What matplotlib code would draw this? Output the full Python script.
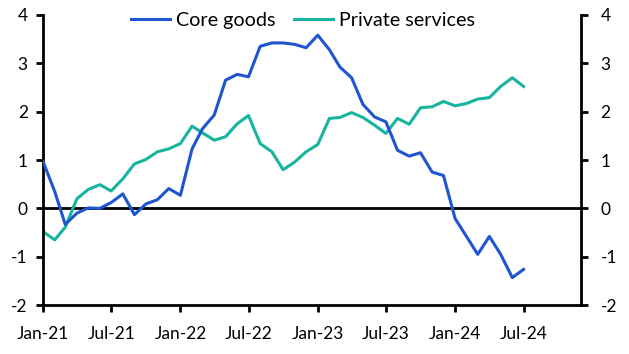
import matplotlib
matplotlib.use('Agg')
import matplotlib.pyplot as plt
import matplotlib.dates as mdates
import pandas as pd

plt.rcParams['font.family'] = ['Lato', 'DejaVu Sans']
plt.rcParams['font.size'] = 12.5
plt.rcParams['axes.unicode_minus'] = False

# monthly, Jan-21 .. Jul-24
months = pd.date_range('2021-01-01', '2024-07-01', freq='MS')
core_goods = [
	0.97, 0.35, -0.33, -0.10, 0.01, 0.00, 0.12, 0.30, -0.13, 0.09, 0.18, 0.41,
	0.27, 1.23, 1.65, 1.93, 2.65, 2.77, 2.72, 3.35, 3.42, 3.42, 3.39, 3.32,
	3.58, 3.28, 2.92, 2.70, 2.15, 1.89, 1.79, 1.20, 1.08, 1.15, 0.75, 0.68,
	-0.21, -0.59, -0.95, -0.58, -0.95, -1.43, -1.26,
]
private_services = [
	-0.48, -0.65, -0.39, 0.20, 0.39, 0.49, 0.36, 0.61, 0.92, 1.01, 1.17, 1.23,
	1.34, 1.70, 1.56, 1.41, 1.48, 1.75, 1.92, 1.34, 1.17, 0.80, 0.96, 1.17,
	1.32, 1.86, 1.88, 1.98, 1.88, 1.72, 1.55, 1.86, 1.74, 2.08, 2.10, 2.21,
	2.12, 2.17, 2.26, 2.29, 2.52, 2.70, 2.52,
]
yticks = [-2, -1, 0, 1, 2, 3, 4]

fig = plt.figure(figsize=(6.29, 3.54), dpi=100)
ax = fig.add_axes([0.0684, 0.138, 0.8556, 0.82])

ax.axhline(0, color='black', lw=2, zorder=1)
ax.plot(months, core_goods, color='#1F55D0', lw=2.2, label='Core goods', zorder=3)
ax.plot(months, private_services, color='#17B4A0', lw=2.2, label='Private services', zorder=2)

ax.set_ylim(-2, 4)
ax.set_yticks(yticks)
ax.set_xlim(pd.Timestamp('2021-01-01'), pd.Timestamp('2024-12-01'))
ax.xaxis.set_major_locator(mdates.MonthLocator(bymonth=[1, 7]))
ax.xaxis.set_major_formatter(mdates.DateFormatter('%b-%y'))

for side in ['left', 'right', 'bottom']:
	ax.spines[side].set_linewidth(2)
	ax.spines[side].set_color('black')
ax.spines['top'].set_visible(False)
ax.tick_params(axis='both', width=2, length=5, direction='out', colors='black')
ax.tick_params(axis='x', pad=10)
ax.tick_params(axis='y', pad=6)

# right-hand axis mirrors the left
ax2 = ax.twinx()
ax2.set_ylim(ax.get_ylim())
ax2.set_yticks(yticks)
for side in ['left', 'right', 'bottom', 'top']:
	ax2.spines[side].set_visible(False)
ax2.tick_params(axis='y', width=2, length=5, direction='out', pad=9)

ax.legend(loc='upper center', bbox_to_anchor=(0.483, 1.07), ncol=2, frameon=False,
	handlelength=2.0, columnspacing=0.9, handletextpad=0.3, fontsize=14.2)

fig.savefig('out.png', dpi=100)
